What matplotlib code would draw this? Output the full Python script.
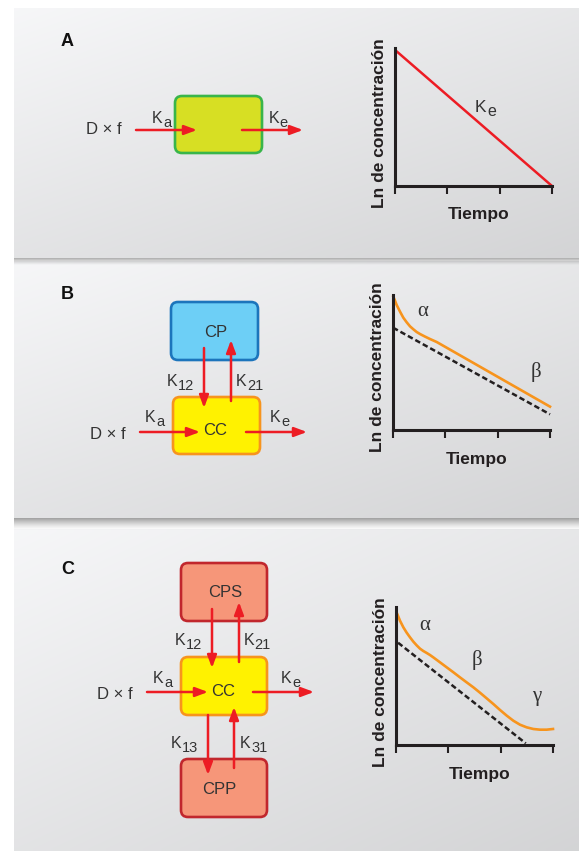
import numpy as np
import matplotlib
matplotlib.use('Agg')
import matplotlib.pyplot as plt
from matplotlib.patches import FancyBboxPatch, FancyArrowPatch
from matplotlib.transforms import offset_copy

W, H = 579, 851
DPI = 100

# ---------------- data ----------------
panel_labels = ['A', 'B', 'C']
time_ticks = [0, 1, 2, 3]

a_time = [0.0, 3.0]
a_lnc = [9.86, 0.0]

b_time = [0.006, 0.038, 0.070, 0.134, 0.197, 0.261, 0.325, 0.389, 0.452, 0.516,
          0.611, 0.707, 0.834, 3.0]
b_lnc = [9.88, 9.58, 9.26, 8.77, 8.32, 7.98, 7.68, 7.46, 7.26, 7.11,
         6.92, 6.74, 6.52, 1.73]
b_dash_time = [0.0, 3.0]
b_dash_lnc = [7.58, 1.16]

c_time = [0.013, 0.045, 0.076, 0.14, 0.204, 0.268, 0.331, 0.395, 0.459, 0.522,
          0.586, 0.650, 0.713, 0.841, 0.968, 1.096, 1.223, 1.350, 1.478, 1.605,
          1.733, 1.860, 1.987, 2.115, 2.242, 2.370, 2.497, 2.624, 2.752, 2.879, 3.0]
c_lnc = [9.59, 9.30, 9.01, 8.53, 8.14, 7.80, 7.49, 7.22, 6.98, 6.81,
         6.67, 6.52, 6.35, 5.99, 5.63, 5.27, 4.90, 4.54, 4.18, 3.79,
         3.38, 2.97, 2.54, 2.13, 1.76, 1.47, 1.28, 1.16, 1.11, 1.11, 1.16]
c_dash_time = [0.04, 2.48]
c_dash_lnc = [7.41, 0.12]

ylabel_text = 'Ln de concentración'
xlabel_text = 'Tiempo'
dose_text = 'D × f'

RED = '#ed1c24'
ORANGE = '#f7941d'
DARK = '#231f20'
TXT = '#333333'
SANS = ['Liberation Sans', 'DejaVu Sans']
SERIF = ['Liberation Serif', 'DejaVu Serif']

fig = plt.figure(figsize=(W / DPI, H / DPI), dpi=DPI)
fig.patch.set_facecolor('white')
ax = fig.add_axes([0, 0, 1, 1])
ax.set_xlim(0, W)
ax.set_ylim(H, 0)
ax.axis('off')

# ---------------- panel backgrounds ----------------
panels = [(8, 258), (261, 518), (529, 851)]
for (y0, y1) in panels:
    ny, nx = 60, 120
    yn = np.linspace(0, 1, ny)[:, None]
    xn = np.linspace(0, 1, nx)[None, :]
    v = 0.965 - 0.075 * yn - 0.06 * xn
    img = np.dstack([v, v + 0.002, v + 0.008])
    img = np.clip(img, 0, 1)
    ax.imshow(img, extent=[14, W, y1, y0], aspect='auto', interpolation='bilinear', zorder=0)

for (y0, y1), n, a0 in zip(panels[:2], [8, 13], [0.30, 0.36]):
    sh = np.zeros((n, 1, 4))
    sh[:, 0, 3] = a0 * np.linspace(1, 0, n) ** 1.4
    ax.imshow(sh, extent=[14, W, y1 + n, y1], aspect='auto', interpolation='bilinear', zorder=0.5)

ax.set_xlim(0, W)
ax.set_ylim(H, 0)


# ---------------- helpers ----------------
def box(x0, y0, x1, y1, fc, ec):
    ax.add_patch(FancyBboxPatch((x0, y0), x1 - x0, y1 - y0,
                                boxstyle='round,pad=0,rounding_size=7',
                                fc=fc, ec=ec, lw=1.9, zorder=2))


def arrow(x0, y0, x1, y1):
    ax.add_patch(FancyArrowPatch((x0, y0), (x1, y1),
                                 arrowstyle='-|>,head_length=0.75,head_width=0.28',
                                 mutation_scale=10, lw=1.8, color=RED,
                                 shrinkA=0, shrinkB=0, zorder=3))


def ksub(axx, x, y, sub, size=11.5, subsize=10.5, trans=None):
    if trans is None:
        trans = axx.transData
    axx.text(x, y, 'K', fontsize=size, family=SANS, color=TXT, ha='left', va='baseline',
             transform=trans, zorder=5)
    kw = 0.667 * size * DPI / 72 + 0.6
    t2 = offset_copy(trans, fig=fig, x=kw, y=-4, units='dots')
    axx.text(x, y, sub, fontsize=subsize, family=SANS, color=TXT, ha='left', va='baseline',
             transform=t2, zorder=5)


def label(x, y, s, size=12, weight='normal', color=TXT):
    ax.text(x, y, s, fontsize=size, family=SANS, fontweight=weight, color=color,
            ha='center', va='baseline', zorder=5)


# ---------------- panel letters ----------------
for lab, yy in zip(panel_labels, [45.5, 299, 574.5]):
    label(67.5, yy, lab, size=13, weight='bold', color='#111111')

# ---------------- panel A diagram ----------------
box(175, 96, 262, 153, '#d7df23', '#39b54a')
label(104, 134, dose_text, size=12)
arrow(136, 130, 197, 130)
arrow(242, 130, 303, 130)
ksub(ax, 151.7, 123, 'a')
ksub(ax, 268.3, 123, 'e')

# ---------------- panel B diagram ----------------
box(171, 302, 258, 360, '#6dcff6', '#1c75bc')
box(173, 397, 260, 454, '#fff200', '#f7941d')
label(215.5, 337, 'CP')
label(215.5, 435, 'CC')
label(107.5, 439, dose_text, size=12)
arrow(140, 432, 200, 432)
arrow(246, 432, 307, 432)
arrow(204, 348, 204, 408)
arrow(231, 401, 231, 340)
ksub(ax, 167, 386, '12')
ksub(ax, 236, 386, '21')
ksub(ax, 145, 422, 'a')
ksub(ax, 270, 422, 'e')

# ---------------- panel C diagram ----------------
box(181, 563, 267, 621, '#f69679', '#c1272d')
box(181, 657, 267, 715, '#fff200', '#f7941d')
box(181, 759, 267, 817, '#f69679', '#c1272d')
label(225, 597, 'CPS')
label(223.5, 695.5, 'CC')
label(219.5, 794, 'CPP')
label(115, 699, dose_text, size=12)
arrow(147, 692, 208, 692)
arrow(253, 692, 314, 692)
arrow(212, 609, 212, 668)
arrow(239, 662, 239, 602)
arrow(208, 715, 208, 775)
arrow(234, 768, 234, 707)
ksub(ax, 175, 645, '12')
ksub(ax, 243.3, 645, '21')
ksub(ax, 171, 748, '13')
ksub(ax, 240, 748, '31')
ksub(ax, 152.7, 683, 'a')
ksub(ax, 280.7, 683, 'e')


# ---------------- plots ----------------
def plot_axes(x0, x1, ytop, ybot, ylab_x, ylab_y, xlab_x, xlab_y):
    a = fig.add_axes([x0 / W, 1 - ybot / H, (x1 - x0) / W, (ybot - ytop) / H])
    a.set_facecolor('none')
    a.set_xlim(0, 3)
    a.set_ylim(0, 10)
    for s in ['top', 'right']:
        a.spines[s].set_visible(False)
    for s in ['left', 'bottom']:
        a.spines[s].set_linewidth(2.2)
        a.spines[s].set_color(DARK)
        a.spines[s].set_capstyle('projecting')
    a.set_xticks(time_ticks)
    a.set_xticklabels([])
    a.set_yticks([])
    a.tick_params(axis='x', direction='out', length=6, width=1.5, color=DARK)
    a.set_ylabel(ylabel_text, fontsize=12.5, fontweight='bold', family=SANS, color=DARK)
    a.yaxis.set_label_coords(ylab_x, ylab_y)
    a.set_xlabel(xlabel_text, fontsize=12.5, fontweight='bold', family=SANS, color=DARK)
    a.xaxis.set_label_coords(xlab_x, xlab_y)
    a.set_zorder(6)
    return a


axA = plot_axes(395, 552, 48, 186, -0.054, 0.457, 0.53, -0.15)
axA.plot(a_time, a_lnc, color=RED, lw=1.8, clip_on=False, solid_capstyle='butt')
ksub(axA, 1.53, 5.38, 'e', size=12.5, subsize=11.5)

axB = plot_axes(393, 550, 295, 430, -0.048, 0.467, 0.535, -0.161)
axB.plot(b_dash_time, b_dash_lnc, color=DARK, lw=1.8, dashes=(2.2, 1.2), clip_on=False)
axB.plot(b_time, b_lnc, color=ORANGE, lw=1.9, clip_on=False, solid_joinstyle='round')
axB.text(0.57, 8.44, 'α', fontsize=15, family=SERIF, color=TXT, ha='center', va='baseline')
axB.text(2.73, 3.95, 'β', fontsize=15, family=SERIF, color=TXT, ha='center', va='baseline')

axC = plot_axes(396, 553, 607, 745, -0.048, 0.457, 0.535, -0.157)
axC.plot(c_dash_time, c_dash_lnc, color=DARK, lw=1.8, dashes=(2.2, 1.2), clip_on=False)
axC.plot(c_time, c_lnc, color=ORANGE, lw=1.9, clip_on=False, solid_joinstyle='round')
axC.text(0.55, 8.33, 'α', fontsize=15, family=SERIF, color=TXT, ha='center', va='baseline')
axC.text(1.55, 5.80, 'β', fontsize=15, family=SERIF, color=TXT, ha='center', va='baseline')
axC.text(2.68, 3.19, 'γ', fontsize=15, family=SERIF, color=TXT, ha='center', va='baseline')

fig.savefig('out.png', dpi=DPI, facecolor='white')
